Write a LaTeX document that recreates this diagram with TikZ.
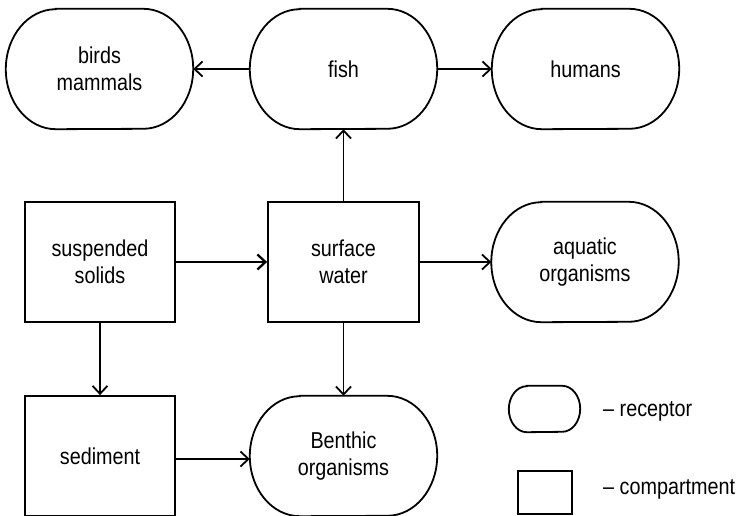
\documentclass[tikz,border=0pt]{standalone}
\usepackage{fontspec}
\setmainfont{Liberation Sans}[FakeStretch=0.86]
\usetikzlibrary{arrows.meta}

\begin{document}
\begin{tikzpicture}[x=1pt,y=1pt,
  every node/.style={font=\fontsize{23}{27}\selectfont, align=center, inner sep=0pt},
  compartment/.style={draw, line width=1.8pt, minimum width=150pt, minimum height=120pt},
  receptor/.style={minimum width=187pt, minimum height=120pt},
  outline/.style={line width=1.8pt},
  flow/.style={line width=1.8pt, -{Straight Barb[length=8pt,width=15pt]}},
  legendtext/.style={anchor=west},
]
\useasboundingbox (0,0) rectangle (745,-516);

% receptors (outlines drawn below)
\node[receptor] (birds)   at (99.5,-69)  {birds\\mammals};
\node[receptor] (fish)    at (343.5,-69) {fish};
\node[receptor] (humans)  at (585.5,-69) {humans};
\node[receptor] (aquatic) at (585,-262)  {aquatic\\organisms};
\node[receptor] (benthic) at (343.5,-456) {Benthic\\organisms};

% compartments
\node[compartment] (solids)   at (100,-262)   {suspended\\solids};
\node[compartment, minimum width=151pt] (water) at (343.5,-262) {surface\\water};
\node[compartment] (sediment) at (100,-456)   {sediment};

% receptor outline: flat top and bottom, half-elliptic ends
\foreach \n in {birds,fish,humans,aquatic,benthic}{
  \draw[outline] ([xshift=50pt]\n.north west) -- ([xshift=-50pt]\n.north east)
    arc[start angle=90, end angle=-90, x radius=50pt, y radius=60pt]
    -- ([xshift=50pt]\n.south west)
    arc[start angle=270, end angle=90, x radius=50pt, y radius=60pt] -- cycle;
}

% transfer paths
\draw[flow] (fish) -- (birds);
\draw[flow] (fish) -- (humans);
\draw[flow] (water) -- (fish);
\draw[flow, line width=2.3pt] (solids) -- (water);
\draw[flow] (water) -- (aquatic);
\draw[flow] (solids) -- (sediment);
\draw[flow] (water) -- (benthic);
\draw[flow] ([yshift=-3pt]sediment.east) -- ([yshift=-3pt]benthic.west);

% legend
\node[minimum width=71pt, minimum height=46pt] (legrec) at (544.5,-409) {};
\draw[outline] ([xshift=18pt]legrec.north west) -- ([xshift=-18pt]legrec.north east)
    arc[start angle=90, end angle=-90, x radius=18pt, y radius=23pt]
    -- ([xshift=18pt]legrec.south west)
    arc[start angle=270, end angle=90, x radius=18pt, y radius=23pt] -- cycle;
\node[draw, line width=1.8pt, minimum width=54pt, minimum height=43pt] (legcomp) at (545,-492.5) {};
\node[legendtext] (recl)  at (603,-411) {-- receptor};
\node[legendtext] (compl) at (603,-489) {-- compartment};
\end{tikzpicture}
\end{document}
